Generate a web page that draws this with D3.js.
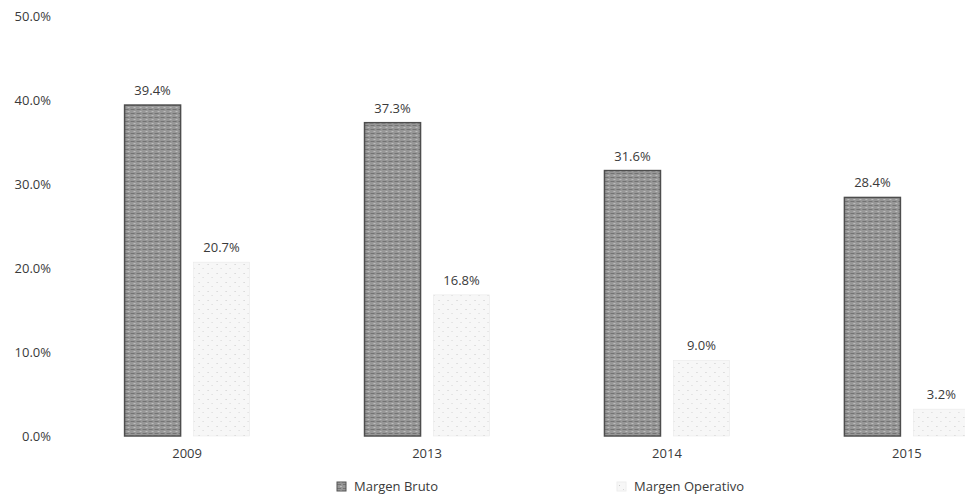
<!DOCTYPE html>
<html>
<head>
<meta charset="utf-8">
<script src="https://cdn.jsdelivr.net/npm/d3@7"></script>
<style>
  html, body { margin: 0; padding: 0; background: #ffffff; }
  svg { display: block; }
  text { font-family: "Open Sans", "Liberation Sans", sans-serif; fill: #3a3a3a; }
</style>
</head>
<body>
<svg id="chart" width="965" height="501"></svg>
<script>
const years = ["2009", "2013", "2014", "2015"];
const series = ["Margen Bruto", "Margen Operativo"];
const margenBruto = [0.394, 0.373, 0.316, 0.284];
const margenOperativo = [0.207, 0.168, 0.090, 0.032];
const yTicks = [0, 0.1, 0.2, 0.3, 0.4, 0.5];

const seriesValues = { "Margen Bruto": margenBruto, "Margen Operativo": margenOperativo };
const strokes = { "Margen Bruto": "#4d4d4d", "Margen Operativo": "#e6e6e6" };
const FONT = '"Open Sans", "Liberation Sans", sans-serif';

const svg = d3.select("#chart");

const y = d3.scaleLinear().domain([0, 0.5]).range([436, 16]);
const x0 = d3.scaleBand().domain(years).range([67, 1027]).paddingInner(0.479).paddingOuter(0.24);
const x1 = d3.scaleBand().domain(series).range([0, x0.bandwidth()]).paddingInner(0.188).paddingOuter(0);

// texture patterns
const defs = svg.append("defs");
const pb = defs.append("pattern").attr("id", "texBruto").attr("width", 6).attr("height", 4)
  .attr("patternUnits", "userSpaceOnUse");
pb.append("rect").attr("width", 6).attr("height", 4).attr("fill", "#979797");
pb.append("rect").attr("x", 0).attr("y", 1).attr("width", 4).attr("height", 1).attr("fill", "#747474");
pb.append("rect").attr("x", 3).attr("y", 3).attr("width", 2).attr("height", 1).attr("fill", "#bdbdbd");
const po = defs.append("pattern").attr("id", "texOper").attr("width", 9).attr("height", 9)
  .attr("patternUnits", "userSpaceOnUse");
po.append("rect").attr("width", 9).attr("height", 9).attr("fill", "#f7f7f7");
po.append("rect").attr("x", 2).attr("y", 3).attr("width", 1).attr("height", 1).attr("fill", "#c8c8c8");
po.append("rect").attr("x", 6).attr("y", 7).attr("width", 1).attr("height", 1).attr("fill", "#d5d5d5");
const fills = { "Margen Bruto": "url(#texBruto)", "Margen Operativo": "url(#texOper)" };

// y axis
const yAxis = d3.axisLeft(y).tickValues(yTicks).tickFormat(d3.format(".1%")).tickSize(0).tickPadding(0);
const gy = svg.append("g").attr("transform", "translate(51,0)").call(yAxis);
gy.select(".domain").remove();
gy.selectAll("text").style("font-family", FONT).style("font-size", "13px").attr("fill", "#3a3a3a");

// bars
const groups = svg.append("g").selectAll("g").data(years).join("g")
  .attr("transform", d => `translate(${x0(d)},0)`);

groups.selectAll("rect").data((d, i) => series.map(s => ({ s, v: seriesValues[s][i] }))).join("rect")
  .attr("x", d => x1(d.s))
  .attr("y", d => y(d.v))
  .attr("width", x1.bandwidth())
  .attr("height", d => y(0) - y(d.v))
  .attr("fill", d => fills[d.s])
  .attr("stroke", d => strokes[d.s])
  .attr("stroke-width", d => d.s === "Margen Bruto" ? 1.5 : 0.5);

groups.selectAll("text.val").data((d, i) => series.map(s => ({ s, v: seriesValues[s][i] }))).join("text")
  .attr("class", "val")
  .attr("x", d => x1(d.s) + x1.bandwidth() / 2)
  .attr("y", d => y(d.v) - 10)
  .attr("text-anchor", "middle")
  .style("font-size", "13px")
  .text(d => d3.format(".1%")(d.v));

// x axis labels
const xAxis = d3.axisBottom(x0).tickSize(0).tickPadding(0);
const gx = svg.append("g").attr("transform", "translate(0,449)").call(xAxis);
gx.select(".domain").remove();
gx.selectAll("text").style("font-family", FONT).style("font-size", "13px").attr("fill", "#3a3a3a");

// legend
const legendX = { "Margen Bruto": 337, "Margen Operativo": 617 };
const lg = svg.append("g").selectAll("g").data(series).join("g")
  .attr("transform", d => `translate(${legendX[d]},491)`);
lg.append("rect").attr("x", 0).attr("y", -9).attr("width", 9).attr("height", 9)
  .attr("fill", d => fills[d]).attr("stroke", d => d === "Margen Bruto" ? "#555" : "#eee").attr("stroke-width", 1);
lg.append("text").attr("x", 17).attr("y", 0).style("font-size", "13px").text(d => d);
</script>
</body>
</html>
